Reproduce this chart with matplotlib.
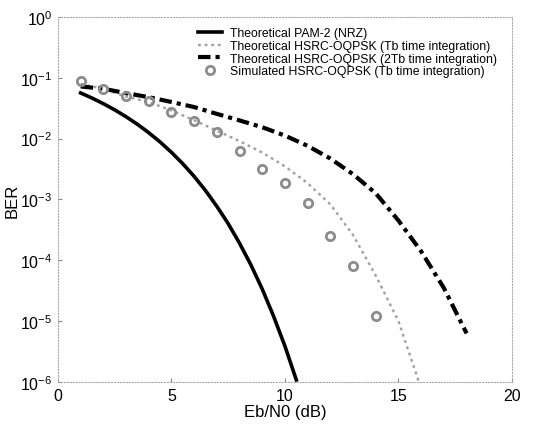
import matplotlib
matplotlib.use('Agg')
import matplotlib.pyplot as plt

plt.rcParams['font.family'] = ['Liberation Sans', 'DejaVu Sans']

# Eb/N0 (dB) and BER values
ebn0_pam = [1, 1.5, 2, 2.5, 3, 3.5, 4, 4.5, 5, 5.5, 6, 6.5, 7, 7.5, 8, 8.5, 9, 9.5, 10, 10.5]
ber_pam = [5.63e-2, 4.64e-2, 3.75e-2, 2.97e-2, 2.29e-2, 1.72e-2, 1.25e-2, 8.8e-3, 5.95e-3,
           3.86e-3, 2.39e-3, 1.4e-3, 7.7e-4, 4.0e-4, 1.9e-4, 8.4e-5, 3.36e-5, 1.2e-5,
           3.87e-6, 1.08e-6]

ebn0_tb = [1, 2, 3, 4, 5, 6, 7, 8, 9, 10, 11, 12, 13, 14, 15, 15.9]
ber_tb = [7.9e-2, 6.6e-2, 4.9e-2, 4.0e-2, 2.9e-2, 2.0e-2, 1.35e-2, 9.1e-3, 5.9e-3,
          3.5e-3, 1.85e-3, 8.3e-4, 2.6e-4, 5.6e-5, 1.0e-5, 1.0e-6]

ebn0_2tb = [1, 2, 3, 4, 5, 6, 7, 8, 9, 10, 11, 12, 13, 14, 15, 16, 17, 18]
ber_2tb = [7.2e-2, 6.6e-2, 5.6e-2, 4.8e-2, 4.0e-2, 3.3e-2, 2.55e-2, 1.99e-2, 1.54e-2,
           1.12e-2, 7.6e-3, 4.7e-3, 2.6e-3, 1.26e-3, 4.5e-4, 1.4e-4, 3.5e-5, 6.3e-6]

ebn0_sim = [1, 2, 3, 4, 5, 6, 7, 8, 9, 10, 11, 12, 13, 14]
ber_sim = [8.97e-2, 6.55e-2, 5.08e-2, 4.2e-2, 2.77e-2, 1.93e-2, 1.3e-2, 6.2e-3, 3.17e-3,
           1.87e-3, 8.75e-4, 2.54e-4, 8.2e-5, 1.2e-5]

labels = ['Theoretical PAM-2 (NRZ)',
          'Theoretical HSRC-OQPSK (Tb time integration)',
          'Theoretical HSRC-OQPSK (2Tb time integration)',
          'Simulated HSRC-OQPSK (Tb time integration)']

fig = plt.figure(figsize=(5.49, 4.27), dpi=100)
ax = fig.add_axes([0.1056, 0.103, 0.827, 0.855])

ax.semilogy(ebn0_pam, ber_pam, color='black', lw=2.6, label=labels[0])
ax.semilogy(ebn0_tb, ber_tb, color='#a0a0a0', ls=(0, (1.2, 1.6)), lw=1.7, label=labels[1])
ax.semilogy(ebn0_2tb, ber_2tb, color='black', lw=3.0, ls=(0, (3, 1.2, 1, 1.2)), label=labels[2])
ax.semilogy(ebn0_sim, ber_sim, ls='none', marker='o', ms=6, mfc='none', mec='#8c8c8c',
            mew=2.0, label=labels[3])

ax.set_xlim(0, 20)
ax.set_ylim(1e-6, 1)
ax.set_xticks([0, 5, 10, 15, 20])
ax.minorticks_off()
ax.tick_params(direction='in', length=3, color='#888888', labelsize=11.5, pad=4)
for s in ax.spines.values():
    s.set_color('#aaaaaa')
    s.set_linestyle(':')
    s.set_linewidth(0.8)

ax.set_xlabel('Eb/N0 (dB)', fontsize=12, labelpad=1)
ax.set_ylabel('BER', fontsize=12)
ax.yaxis.set_label_coords(-0.085, 0.5)

ax.legend(loc='upper right', bbox_to_anchor=(0.985, 0.995), frameon=False, fontsize=8.8,
          handlelength=2.0, labelspacing=0.05, handletextpad=0.6, borderpad=0.2)

plt.savefig('out.png', dpi=100)
